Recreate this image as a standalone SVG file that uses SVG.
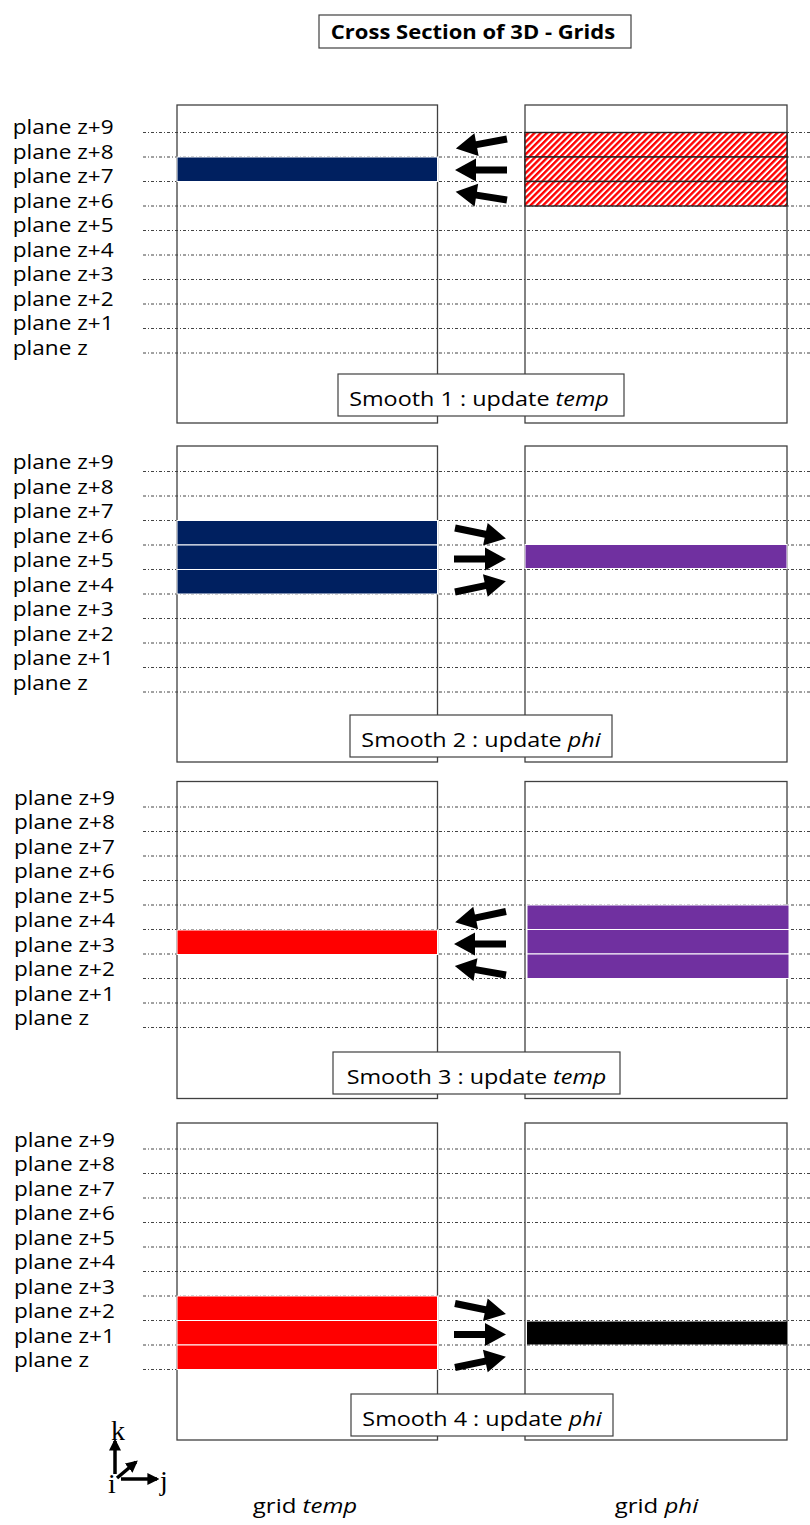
<svg xmlns="http://www.w3.org/2000/svg" xmlns:xlink="http://www.w3.org/1999/xlink" width="810" height="1525" viewBox="0 0 810 1525">
  <style>
    .txt { font-family: "Open Sans", "Noto Sans", sans-serif; font-size: 20px; fill: #000; }
    .title { font-weight: bold; }
    .grid { fill: none; stroke: #404040; stroke-width: 1.3; }
    .plane { stroke: #444; stroke-width: 1; stroke-dasharray: 3 2 1 2; fill: none; }
    .lbl { fill: #fff; stroke: #404040; stroke-width: 1.2; }
    .navy { fill: #002060; stroke: #fff; stroke-width: 1; }
    .purple { fill: #7030A0; stroke: #fff; stroke-width: 1; }
    .red { fill: #FF0000; stroke: #fff; stroke-width: 1; }
    .black { fill: #000; }
    .hatch { fill: url(#hatch); stroke: #222; stroke-width: 1.4; }
    .blk { fill: #000; }
    .axis { stroke: #000; stroke-width: 3.5; fill: none; marker-end: url(#ax); }
    .serif { font-family: "Liberation Serif", "DejaVu Serif", serif; font-size: 28px; fill: #000; }
  </style>
  <defs>
    <pattern id="hatch" patternUnits="userSpaceOnUse" width="4.4" height="4.4" patternTransform="rotate(45)">
      <rect width="4.4" height="4.4" fill="#fff"/>
      <rect width="2.4" height="4.4" fill="#FF0000"/>
    </pattern>
    <!-- block arrow pointing right, tail at the origin -->
    <path id="barrow" d="M0,-3.5 L31,-3.5 L31,-11.5 L52,0 L31,11.5 L31,3.5 L0,3.5 Z"/>
    <marker id="ax" viewBox="0 0 10 10" refX="8" refY="5" markerUnits="userSpaceOnUse" markerWidth="12" markerHeight="12" orient="auto">
      <path d="M0,0 L10,5 L0,10 Z" fill="#000"/>
    </marker>
  </defs>

  <rect width="810" height="1525" fill="#fff"/>

  <!-- title -->
  <g id="title">
    <rect class="lbl" x="319" y="15" width="312" height="33"/>
    <text class="txt title" text-anchor="middle" transform="translate(473 39) scale(1.1 1)">Cross Section of 3D - Grids</text>
  </g>

  <!-- plane lines -->
  <g id="planes">
    <path class="plane" d="M143,132.5H810M143,157H810M143,181.5H810M143,206H810M143,230.5H810M143,255H810M143,279.5H810M143,304H810M143,328.5H810M143,353H810"/>
    <path class="plane" d="M143,471.5H810M143,496H810M143,520.5H810M143,545H810M143,569.5H810M143,594H810M143,618.5H810M143,643H810M143,667.5H810M143,692H810"/>
    <path class="plane" d="M143,807H810M143,831.5H810M143,856H810M143,880.5H810M143,905H810M143,929.5H810M143,954H810M143,978.5H810M143,1003H810M143,1027.5H810"/>
    <path class="plane" d="M143,1149H810M143,1173.5H810M143,1198H810M143,1222.5H810M143,1247H810M143,1271.5H810M143,1296H810M143,1320.5H810M143,1345H810M143,1369.5H810"/>
  </g>

  <!-- plane labels -->
  <g id="labels" class="txt">
    <text transform="translate(12.7 134) scale(1.13 1)">plane z+9</text>
    <text transform="translate(12.7 158.5) scale(1.13 1)">plane z+8</text>
    <text transform="translate(12.7 183) scale(1.13 1)">plane z+7</text>
    <text transform="translate(12.7 207.5) scale(1.13 1)">plane z+6</text>
    <text transform="translate(12.7 232) scale(1.13 1)">plane z+5</text>
    <text transform="translate(12.7 256.5) scale(1.13 1)">plane z+4</text>
    <text transform="translate(12.7 281) scale(1.13 1)">plane z+3</text>
    <text transform="translate(12.7 305.5) scale(1.13 1)">plane z+2</text>
    <text transform="translate(12.7 330) scale(1.13 1)">plane z+1</text>
    <text transform="translate(12.7 354.5) scale(1.13 1)">plane z</text>

    <text transform="translate(12.7 469.2) scale(1.13 1)">plane z+9</text>
    <text transform="translate(12.7 493.7) scale(1.13 1)">plane z+8</text>
    <text transform="translate(12.7 518.2) scale(1.13 1)">plane z+7</text>
    <text transform="translate(12.7 542.7) scale(1.13 1)">plane z+6</text>
    <text transform="translate(12.7 567.2) scale(1.13 1)">plane z+5</text>
    <text transform="translate(12.7 591.7) scale(1.13 1)">plane z+4</text>
    <text transform="translate(12.7 616.2) scale(1.13 1)">plane z+3</text>
    <text transform="translate(12.7 640.7) scale(1.13 1)">plane z+2</text>
    <text transform="translate(12.7 665.2) scale(1.13 1)">plane z+1</text>
    <text transform="translate(12.7 689.7) scale(1.13 1)">plane z</text>

    <text transform="translate(14 804.7) scale(1.13 1)">plane z+9</text>
    <text transform="translate(14 829.2) scale(1.13 1)">plane z+8</text>
    <text transform="translate(14 853.7) scale(1.13 1)">plane z+7</text>
    <text transform="translate(14 878.2) scale(1.13 1)">plane z+6</text>
    <text transform="translate(14 902.7) scale(1.13 1)">plane z+5</text>
    <text transform="translate(14 927.2) scale(1.13 1)">plane z+4</text>
    <text transform="translate(14 951.7) scale(1.13 1)">plane z+3</text>
    <text transform="translate(14 976.2) scale(1.13 1)">plane z+2</text>
    <text transform="translate(14 1000.7) scale(1.13 1)">plane z+1</text>
    <text transform="translate(14 1025.2) scale(1.13 1)">plane z</text>

    <text transform="translate(14 1146.7) scale(1.13 1)">plane z+9</text>
    <text transform="translate(14 1171.2) scale(1.13 1)">plane z+8</text>
    <text transform="translate(14 1195.7) scale(1.13 1)">plane z+7</text>
    <text transform="translate(14 1220.2) scale(1.13 1)">plane z+6</text>
    <text transform="translate(14 1244.7) scale(1.13 1)">plane z+5</text>
    <text transform="translate(14 1269.2) scale(1.13 1)">plane z+4</text>
    <text transform="translate(14 1293.7) scale(1.13 1)">plane z+3</text>
    <text transform="translate(14 1318.2) scale(1.13 1)">plane z+2</text>
    <text transform="translate(14 1342.7) scale(1.13 1)">plane z+1</text>
    <text transform="translate(14 1367.2) scale(1.13 1)">plane z</text>
  </g>

  <!-- step 1 -->
  <g id="temp1">
    <rect class="grid" x="177" y="105" width="260.5" height="318"/>
    <rect class="navy" x="177" y="157" width="260.5" height="24.5"/>
  </g>
  <g id="phi1">
    <rect class="grid" x="525" y="105" width="262" height="318"/>
    <rect class="hatch" x="525" y="132.5" width="262" height="24.5"/>
    <rect class="hatch" x="525" y="157" width="262" height="24.5"/>
    <rect class="hatch" x="525" y="181.5" width="262" height="24.5"/>
  </g>
  <g id="step1">
    <rect class="lbl" x="338" y="374" width="286" height="42"/>
    <text class="txt" text-anchor="middle" transform="translate(479 405.5) scale(1.17 1)">Smooth 1 : update <tspan font-style="italic">temp</tspan></text>
  </g>

  <!-- step 2 -->
  <g id="temp2">
    <rect class="grid" x="177" y="446" width="260.5" height="316"/>
    <rect class="navy" x="177" y="520.5" width="260.5" height="24.5"/>
    <rect class="navy" x="177" y="545" width="260.5" height="24.5"/>
    <rect class="navy" x="177" y="569.5" width="260.5" height="24.5"/>
  </g>
  <g id="phi2">
    <rect class="grid" x="525" y="446" width="262" height="316"/>
    <rect class="purple" x="525" y="544.5" width="262" height="24"/>
  </g>
  <g id="step2">
    <rect class="lbl" x="350" y="715" width="262" height="42"/>
    <text class="txt" text-anchor="middle" transform="translate(481 746.5) scale(1.17 1)">Smooth 2 : update <tspan font-style="italic">phi</tspan></text>
  </g>

  <!-- step 3 -->
  <g id="temp3">
    <rect class="grid" x="177" y="781.5" width="260.5" height="317"/>
    <rect class="red" x="177" y="930" width="260.5" height="24.5"/>
  </g>
  <g id="phi3">
    <rect class="grid" x="525" y="781.5" width="262" height="317"/>
    <rect class="purple" x="527" y="905" width="262" height="24.5"/>
    <rect class="purple" x="527" y="929.5" width="262" height="24.5"/>
    <rect class="purple" x="527" y="954" width="262" height="24.5"/>
  </g>
  <g id="step3">
    <rect class="lbl" x="333" y="1052" width="287" height="42"/>
    <text class="txt" text-anchor="middle" transform="translate(476.5 1083.5) scale(1.17 1)">Smooth 3 : update <tspan font-style="italic">temp</tspan></text>
  </g>

  <!-- step 4 -->
  <g id="temp4">
    <rect class="grid" x="177" y="1123" width="260.5" height="317"/>
    <rect class="red" x="177" y="1296" width="260.5" height="24.5"/>
    <rect class="red" x="177" y="1320.5" width="260.5" height="24.5"/>
    <rect class="red" x="177" y="1345" width="260.5" height="24.5"/>
  </g>
  <g id="phi4">
    <rect class="grid" x="525" y="1123" width="262" height="317"/>
    <rect class="black" x="527" y="1321.5" width="260" height="23"/>
  </g>
  <g id="step4">
    <rect class="lbl" x="351" y="1394" width="262" height="42"/>
    <text class="txt" text-anchor="middle" transform="translate(482 1425.5) scale(1.17 1)">Smooth 4 : update <tspan font-style="italic">phi</tspan></text>
  </g>

  <!-- data-flow arrows between the grids -->
  <g id="connectors" class="blk">
    <use xlink:href="#barrow" transform="translate(507 139) rotate(169.5)"/>
    <use xlink:href="#barrow" transform="translate(507 170) rotate(180)"/>
    <use xlink:href="#barrow" transform="translate(507 200) rotate(189)"/>

    <use xlink:href="#barrow" transform="translate(455 528) rotate(11.6)"/>
    <use xlink:href="#barrow" transform="translate(454 559) rotate(0)"/>
    <use xlink:href="#barrow" transform="translate(455 592) rotate(-12)"/>

    <use xlink:href="#barrow" transform="translate(506 911.5) rotate(168)"/>
    <use xlink:href="#barrow" transform="translate(506 944) rotate(180)"/>
    <use xlink:href="#barrow" transform="translate(506 975) rotate(190)"/>

    <use xlink:href="#barrow" transform="translate(455 1303.5) rotate(11.6)"/>
    <use xlink:href="#barrow" transform="translate(454 1334.5) rotate(0)"/>
    <use xlink:href="#barrow" transform="translate(455 1367.5) rotate(-12)"/>
  </g>

  <!-- axes -->
  <g id="axes">
    <path class="axis" d="M115,1474 V1441"/>
    <path class="axis" d="M121,1479 H157"/>
    <path class="axis" d="M117,1478 L136,1462"/>
    <text class="serif" x="111" y="1440">k</text>
    <text class="serif" x="108" y="1493">i</text>
    <text class="serif" x="160" y="1490">j</text>
  </g>

  <!-- grid names -->
  <g id="names" class="txt">
    <text text-anchor="middle" transform="translate(305 1513) scale(1.2 1)">grid <tspan font-style="italic">temp</tspan></text>
    <text text-anchor="middle" transform="translate(656.5 1513) scale(1.2 1)">grid <tspan font-style="italic">phi</tspan></text>
  </g>
</svg>
